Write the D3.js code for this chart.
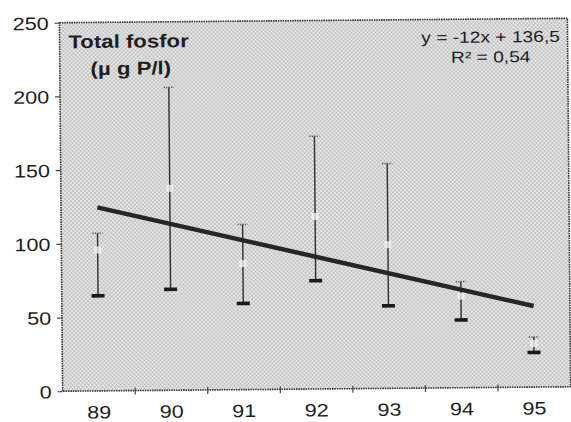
<!DOCTYPE html>
<html>
<head>
<meta charset="utf-8">
<script src="https://cdn.jsdelivr.net/npm/d3@7"></script>
<style>
  html, body { margin: 0; padding: 0; background: #ffffff; }
  svg { display: block; }
  text { font-family: "Liberation Sans", Arial, Helvetica, sans-serif; fill: #1e1e1e; }
</style>
</head>
<body>
<svg id="chart" width="571" height="422"></svg>
<script>
// ---- data ----
const years = ["89", "90", "91", "92", "93", "94", "95"];
const meanValues  = [95.6, 137, 85.5, 117, 97.5, 62, 29.5];
const upperValues = [107, 205.5, 112, 171.5, 152.5, 72, 34];
const lowerValues = [64.5, 68.5, 58.5, 73.5, 56, 46, 23.5];
const trendYears  = ["89", "95"];
const trendValues = [124.5, 55];
const yTicks = [0, 50, 100, 150, 200, 250];
const titleLines = ["Total fosfor", "(\u00B5 g P/l)"];
const equationLines = ["y = -12x + 136,5", "R\u00B2 = 0,54"];

// ---- layout ----
const W = 571, H = 422;
const margin = { left: 61, right: 2, top: 20.5, bottom: 33 };
const stretch = 1.2; // the scanned type is horizontally stretched

const svg = d3.select("#chart");

const defs = svg.append("defs");
const pat = defs.append("pattern")
  .attr("id", "stipple").attr("patternUnits", "userSpaceOnUse")
  .attr("width", 4).attr("height", 4);
pat.append("rect").attr("width", 4).attr("height", 4).attr("fill", "#e8e8e8");
pat.append("rect").attr("x", 0).attr("y", 0).attr("width", 2).attr("height", 2).attr("fill", "#c2c2c2");
pat.append("rect").attr("x", 2).attr("y", 2).attr("width", 2).attr("height", 2).attr("fill", "#c2c2c2");

const root = svg.append("g").attr("transform", "rotate(-0.5, 315, 205)");

const x = d3.scaleBand().domain(years)
  .range([margin.left, W - margin.right]).padding(0);
const y = d3.scaleLinear().domain([0, 250])
  .range([H - margin.bottom, margin.top]);

const plotL = margin.left, plotR = W - margin.right;
const plotT = margin.top, plotB = H - margin.bottom;

// plot background
root.append("rect")
  .attr("x", plotL).attr("y", plotT)
  .attr("width", plotR - plotL).attr("height", plotB - plotT)
  .attr("fill", "url(#stipple)");

// frame
root.append("rect")
  .attr("x", plotL).attr("y", plotT)
  .attr("width", plotR - plotL).attr("height", plotB - plotT)
  .attr("fill", "none").attr("stroke", "#3a3a3a")
  .attr("stroke-width", 1.6).attr("stroke-dasharray", "1.6,0.8");

// y axis
const yAxis = root.append("g")
  .attr("transform", `translate(${plotL},0)`)
  .call(d3.axisLeft(y).tickValues(yTicks).tickSize(5).tickPadding(4));
yAxis.select(".domain").remove();
yAxis.selectAll(".tick line").attr("stroke", "#444").attr("stroke-width", 1.2);
yAxis.selectAll(".tick text")
  .attr("font-size", 18).attr("x", -9).attr("dy", "0.36em")
  .attr("transform", `scale(${stretch},1)`)
  .style("fill", "#1e1e1e");

// x axis (labels centred in each band)
const xAxis = root.append("g")
  .attr("transform", `translate(0,${plotB})`)
  .call(d3.axisBottom(x).tickSize(0));
xAxis.select(".domain").remove();
xAxis.selectAll(".tick text")
  .attr("font-size", 18).attr("y", 27.5).attr("dy", 0)
  .attr("transform", `scale(${stretch},1)`)
  .style("fill", "#1e1e1e");

// x tick marks at band boundaries
root.append("g").selectAll("line")
  .data(years.slice(1))
  .join("line")
  .attr("x1", d => x(d)).attr("x2", d => x(d))
  .attr("y1", plotB - 3).attr("y2", plotB + 4)
  .attr("stroke", "#444").attr("stroke-width", 1.2);

// error bars
const bars = root.append("g");
const cx = i => x(years[i]) + x.bandwidth() / 2;
years.forEach((yr, i) => {
  const g = bars.append("g");
  g.append("line")
    .attr("x1", cx(i)).attr("x2", cx(i))
    .attr("y1", y(upperValues[i])).attr("y2", y(lowerValues[i]))
    .attr("stroke", "#2e2e2e").attr("stroke-width", 1.4);
  // upper cap: faint dotted
  g.append("line")
    .attr("x1", cx(i) - 5).attr("x2", cx(i) + 5)
    .attr("y1", y(upperValues[i])).attr("y2", y(upperValues[i]))
    .attr("stroke", "#555").attr("stroke-width", 1.5)
    .attr("stroke-dasharray", "1.2,1.2");
  // lower cap: heavy bar
  g.append("rect")
    .attr("x", cx(i) - 6.5).attr("y", y(lowerValues[i]) - 1.8)
    .attr("width", 13).attr("height", 3.6)
    .attr("fill", "#1a1a1a");
  // mean marker: white square
  g.append("rect")
    .attr("x", cx(i) - 3.5).attr("y", y(meanValues[i]) - 3.5)
    .attr("width", 7).attr("height", 7)
    .attr("fill", "#f4f4f4").attr("opacity", 0.75);
});

// trend line
const line = d3.line()
  .x(d => x(d[0]) + x.bandwidth() / 2)
  .y(d => y(d[1]));
root.append("path")
  .datum(trendYears.map((d, i) => [d, trendValues[i]]))
  .attr("d", line)
  .attr("fill", "none").attr("stroke", "#262626")
  .attr("stroke-width", 4.5).attr("stroke-linecap", "butt");

// title
const title = root.append("g");
titleLines.forEach((t, i) => {
  title.append("g")
    .attr("transform", `translate(${i === 0 ? 130 : 132},${i === 0 ? 46 : 73}) scale(${stretch},1)`)
    .append("text")
    .attr("text-anchor", "middle")
    .attr("font-size", 18.5).attr("font-weight", "bold")
    .text(t);
});

// regression equation
const eq = root.append("g");
equationLines.forEach((t, i) => {
  eq.append("g")
    .attr("transform", `translate(${492},${i === 0 ? 44 : 64}) scale(${stretch},1)`)
    .append("text")
    .attr("text-anchor", "middle")
    .attr("font-size", 16)
    .text(t);
});
</script>
</body>
</html>
